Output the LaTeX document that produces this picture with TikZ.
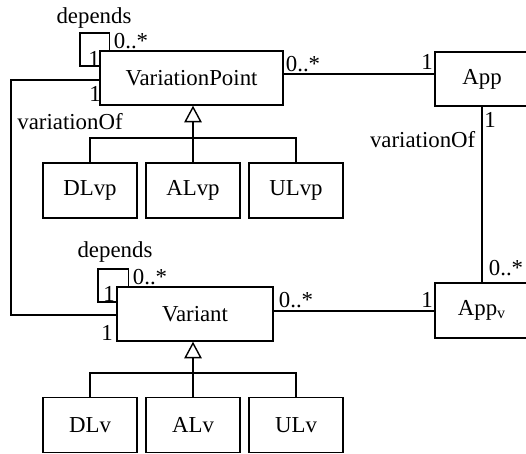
\documentclass[tikz,border=0pt]{standalone}
\usepackage{fontspec}
\setmainfont{Liberation Serif}
\usepackage{tikz}
\usetikzlibrary{arrows.meta,calc}

\begin{document}
\begin{tikzpicture}[x=0.02cm, y=-0.02cm, line width=0.8pt,
    font=\fontsize{13}{15}\selectfont,
    cls/.style={draw, inner sep=0pt, minimum width=1.88cm, minimum height=1.1cm},
    lbl/.style={inner sep=0pt},
    gen/.style={-{Triangle[open, length=9.5pt, width=10pt]}}]
        \useasboundingbox (0,0) rectangle (526,453);

        \node[cls, minimum width=3.66cm, minimum height=1.08cm] (vp) at (191.5,78) {VariationPoint};
        \node[cls, minimum height=1.08cm] (app) at (482,79) {App};
        \node[cls, minimum width=3.12cm, minimum height=1.08cm] (var) at (195,314) {Variant};
        \node[cls, minimum height=1.1cm] (appv) at (482,310.5) {App\textsubscript{v}};

        \node[cls] (dlvp) at (90,190.5) {DLvp};
        \node[cls] (alvp) at (193,190.5) {ALvp};
        \node[cls] (ulvp) at (296,190.5) {ULvp};

        \node[cls] (dlv) at (90,425) {DLv};
        \node[cls] (alv) at (193,425) {ALv};
        \node[cls] (ulv) at (296,425) {ULv};

        \draw (vp.west |- 0,66) -| (80,33) -| ($(vp.north west)+(10,0)$);
        \node[lbl] (vpdep) at (94,18) {depends};
        \node[lbl] (vpdepa) at (94,59) {1};
        \node[lbl] (vpdepb) at (131,41) {0..*};

        \draw (var.west |- 0,302) -| (98,269) -| ($(var.north west)+(12,0)$);
        \node[lbl] (vardep) at (115,252) {depends};
        \node[lbl] (vardepa) at (109,294) {1};
        \node[lbl] (vardepb) at (150,277) {0..*};

        \draw (vp.west |- 0,80) -| (11,315) -- (var.west |- 0,315);
        \node[lbl] (vpof) at (95,94) {1};
        \node[lbl] (varof) at (107,333) {1};
        \node[lbl] (vof) at (70,122) {variationOf};

        \draw (vp.east |- 0,74) -- (app.west |- 0,74);
        \node[lbl] (vpapp) at (303,64) {0..*};
        \node[lbl] (appvp) at (427,62) {1};

        \draw (var.east |- 0,311) -- (appv.west |- 0,311);
        \node[lbl] (varappv) at (296,300) {0..*};
        \node[lbl] (appvvar) at (427,300) {1};

        \draw (app.south) -- (appv.north);
        \node[lbl] (appof) at (490,120) {1};
        \node[lbl] (appvof) at (506,268) {0..*};
        \node[lbl, anchor=east] (aof) at (476,140) {variationOf};

        \draw (dlvp.north) |- (alvp.north |- 0,138) -| (ulvp.north);
        \draw[gen] (alvp.north) -- (alvp.north |- vp.south);

        \draw (dlv.north) |- (alv.north |- 0,373) -| (ulv.north);
        \draw[gen] (alv.north) -- (alv.north |- var.south);
    \end{tikzpicture}
\end{document}
